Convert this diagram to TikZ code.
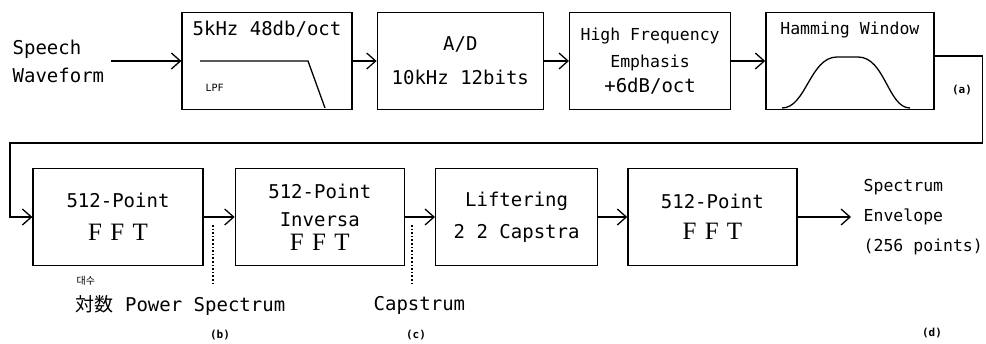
\documentclass[tikz,border=0pt]{standalone}
\usepackage{fontspec}
\setmainfont{DejaVu Sans Mono}
\newfontfamily\fftfont{Liberation Serif}
\newfontfamily\jpfont{Noto Sans CJK JP}
\newfontfamily\krfont{Noto Sans CJK KR}
\usetikzlibrary{arrows.meta, positioning}

\begin{document}
\begin{tikzpicture}[x=1pt, y=-1pt, >={Straight Barb[length=9pt,width=16pt]}, line width=1.3pt, font=\fontsize{19}{22}\selectfont]
    \tikzstyle{stage} = [rectangle, draw, minimum width=168pt, minimum height=97pt, inner sep=0pt, align=center]
    \tikzstyle{note} = [inner sep=0pt, align=left]
    \tikzstyle{tag} = [inner sep=0pt, font=\fontsize{11}{13}\selectfont\bfseries]
    \newcommand{\fftword}{{\fftfont\fontsize{25}{27}\selectfont F\,\,F\,\,T}}
    \useasboundingbox (0,0) rectangle (986,343);

    % Top row
    \node [note, anchor=west] (speech) at (12,61) {Speech\\[6pt]Waveform};
    \node [stage, minimum width=170pt] (lpf) at (267,61) {};
    \node [stage, minimum width=166pt, right=24pt of lpf] (adc) {A/D\\[12pt]10kHz 12bits};
    \node [stage, minimum width=161pt, right=25pt of adc, font=\fontsize{16.5}{20}\selectfont] (hfe) {High Frequency\\[7pt]Emphasis\\[5pt]{\fontsize{19}{22}\selectfont +6dB/oct}};
    \node [stage, right=34pt of hfe] (ham) {};

    \node [note, below=9pt of lpf.north] (lpftxt) {5kHz 48db/oct};
    \node [tag, font=\fontsize{10}{12}\selectfont, anchor=west] (lpfname) at (205,88) {LPF};
    \node [note, below=9pt of ham.north, font=\fontsize{16.5}{20}\selectfont] (hamtxt) {Hamming Window};
    \node [tag, anchor=center] (a) at (962,90) {(a)};

    % Filter and window curves
    \draw (200,61) -- (308,61) -- (325,108);
    \draw (782,108) .. controls (806,108) and (810,57) .. (837,57) -- (858,57) .. controls (885,57) and (888,108) .. (910,108);

    % Bottom row
    \node [stage, minimum width=170pt] (fft1) at (118,217) {512-Point\\[11pt]\fftword};
    \node [stage, minimum width=169pt, right=31pt of fft1] (ifft) {512-Point\\[6pt]Inversa\\[2pt]\fftword};
    \node [stage, minimum width=162pt, right=30pt of ifft] (lifter) {Liftering\\[10pt]2 2 Capstra};
    \node [stage, minimum width=169pt, right=29pt of lifter] (fft2) {512-Point\\[9pt]\fftword};
    \node [note, anchor=west, font=\fontsize{16.5}{20}\selectfont] (env) at (863,217) {Spectrum\\[10pt]Envelope\\[10pt](256 points)};

    % Labels below
    \node [note, anchor=west, font=\krfont\fontsize{10}{12}\selectfont] (kr) at (76,281) {대수};
    \node [note, anchor=west] (power) at (75,305) {{\jpfont\fontsize{19}{22}\selectfont 対数} Power Spectrum};
    \node [note, anchor=west] (cep) at (373,305) {Capstrum};
    \node [tag] (b) at (220,335) {(b)};
    \node [tag] (c) at (416,335) {(c)};
    \node [tag] (d) at (932,333) {(d)};

    \coordinate (btop) at (213,225);
    \coordinate (ctop) at (412,225);
    \draw [dotted, line width=1.6pt] (btop) -- ++(0,59);
    \draw [dotted, line width=1.6pt] (ctop) -- ++(0,59);

    % Connections
    \coordinate (back) at (10,143);
    \draw [->] (speech.east) ++(6,0) -- (lpf.west);
    \draw [->] (lpf) -- (adc);
    \draw [->] (adc) -- (hfe);
    \draw [->] (hfe) -- (ham);
    \draw [->] ([yshift=5pt]ham.east) -- ++(48,0) |- (back) |- (fft1.west);
    \draw [->] (fft1) -- (ifft);
    \draw [->] (ifft) -- (lifter);
    \draw [->] (lifter) -- (fft2);
    \draw [->] (fft2.east) -- ([xshift=-12pt]env.west);
\end{tikzpicture}
\end{document}
